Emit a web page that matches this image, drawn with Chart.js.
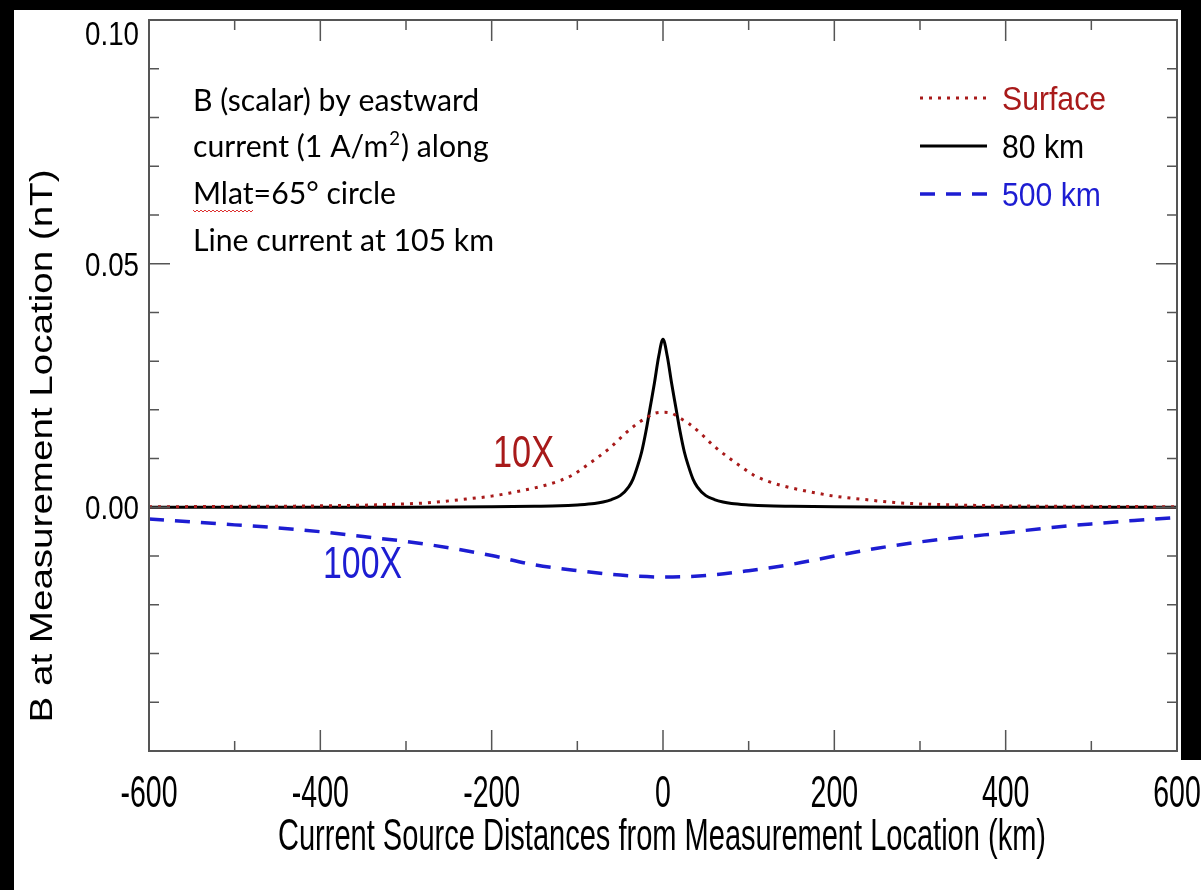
<!DOCTYPE html>
<html>
<head>
<meta charset="utf-8">
<script src="https://cdn.jsdelivr.net/npm/chart.js@4/dist/chart.umd.min.js"></script>
<style>
  html, body { margin: 0; padding: 0; background: #fff; }
  #fieldChart { display: block; }
</style>
</head>
<body>
<canvas id="fieldChart" width="1201" height="890"></canvas>
<script>
// 地面 (已放大10倍)
const surfaceKm = [-600, -500, -400, -300, -270, -230, -200, -180, -160, -140, -120, -105, -90, -75, -60, -45, -30, -20, -10,
    0, 10, 20, 30, 45, 60, 75, 90, 105, 120, 140, 160, 180, 200, 230, 270, 300, 400, 500, 600];
const surfaceB = [0.0001, 0.0002, 0.0003, 0.0007, 0.0010, 0.0017, 0.0023, 0.0029, 0.0036, 0.0044, 0.0055, 0.0067, 0.0085, 0.0104, 0.0125, 0.0150, 0.0172, 0.0183, 0.0193,
    0.0195, 0.0193, 0.0183, 0.0172, 0.0150, 0.0125, 0.0104, 0.0085, 0.0067, 0.0055, 0.0044, 0.0036, 0.0029, 0.0023, 0.0017, 0.0010, 0.0007, 0.0003, 0.0002, 0.0001];

// 80 km 高度
const km80Km = [-600, -300, -200, -150, -120, -100, -80, -70, -60, -50, -40, -35, -30, -25, -20, -15, -10, -5,
    0, 5, 10, 15, 20, 25, 30, 35, 40, 50, 60, 70, 80, 100, 120, 150, 200, 300, 600];
const km80B = [0, 0, 0.0001, 0.0002, 0.0003, 0.0005, 0.0008, 0.0011, 0.0016, 0.0024, 0.0042, 0.0058, 0.0083, 0.0113, 0.0155, 0.0205, 0.0255, 0.0310,
    0.0345, 0.0310, 0.0255, 0.0205, 0.0155, 0.0113, 0.0083, 0.0058, 0.0042, 0.0024, 0.0016, 0.0011, 0.0008, 0.0005, 0.0003, 0.0002, 0.0001, 0, 0];

// 500 km 高度 (已放大100倍)
const km500Km = [-600, -550, -500, -450, -400, -350, -300, -250, -200, -150, -100, -50, 0, 50, 100, 150, 200, 250, 300, 350, 400, 450, 500, 550, 600];
const km500B = [-0.0024, -0.0030, -0.0036, -0.0042, -0.0050, -0.0060, -0.0070, -0.0083, -0.0099, -0.0118, -0.0130, -0.0139, -0.0143,
    -0.0140, -0.0130, -0.0117, -0.0100, -0.0084, -0.0071, -0.0061, -0.0052, -0.0042, -0.0034, -0.0027, -0.0021];

const seriesNames = ['Surface', '80 km', '500 km'];

// 坐标轴刻度
const xTicks = [-600, -500, -400, -300, -200, -100, 0, 100, 200, 300, 400, 500, 600];
const xTickLabels = ['-600', '', '-400', '', '-200', '', '0', '', '200', '', '400', '', '600'];
const yTicks = [-0.05, -0.04, -0.03, -0.02, -0.01, 0, 0.01, 0.02, 0.03, 0.04, 0.05, 0.06, 0.07, 0.08, 0.09, 0.10];
const yTickLabels = ['', '', '', '', '', '0.00', '', '', '', '', '0.05', '', '', '', '', '0.10'];

const xTitle = 'Current Source Distances from Measurement Location (km)';
const yTitle = 'B at Measurement Location (nT)';

const RED = '#a81a1a';
const BLUE = '#1d1dd2';
const AXIS = '#555';
const SANS = '"Liberation Sans", Arial, sans-serif';

function toPoints(xs, ys) {
    return xs.map((x, i) => ({ x: x, y: ys[i] }));
}

// 横向压缩文字
function drawText(ctx, text, x, y, size, sx, align, color, family) {
    ctx.save();
    ctx.font = size + 'px ' + (family || SANS);
    ctx.translate(x, y);
    ctx.scale(sx, 1);
    ctx.textAlign = align;
    ctx.textBaseline = 'alphabetic';
    ctx.fillStyle = color;
    ctx.fillText(text, 0, 0);
    ctx.restore();
}

function fitScale(ctx, text, size, width, family) {
    ctx.save();
    ctx.font = size + 'px ' + (family || SANS);
    const w = ctx.measureText(text).width;
    ctx.restore();
    return width / w;
}

const pagePlugin = {
    id: 'page',
    beforeDraw(chart) {
        const ctx = chart.ctx;
        ctx.save();
        ctx.fillStyle = '#fff';
        ctx.fillRect(0, 0, chart.width, chart.height);
        ctx.fillStyle = '#000';
        ctx.fillRect(0, 0, chart.width, 10);
        ctx.fillRect(0, 0, 14, chart.height);
        ctx.fillRect(1181, 0, 20, 760);
        ctx.restore();
    },
    afterDatasetsDraw(chart) {
        const ctx = chart.ctx;
        const area = chart.chartArea;
        const xs = chart.scales.x;
        const ys = chart.scales.y;

        ctx.save();
        // 边框
        ctx.strokeStyle = AXIS;
        ctx.lineWidth = 2;
        ctx.strokeRect(area.left, area.top, area.right - area.left, area.bottom - area.top);

        // 向内的刻度线
        ctx.lineWidth = 1.5;
        ctx.beginPath();
        xTicks.forEach((v, i) => {
            const px = xs.getPixelForValue(v);
            const len = xTickLabels[i] ? 21 : 10;
            ctx.moveTo(px, area.bottom);
            ctx.lineTo(px, area.bottom - len);
            ctx.moveTo(px, area.top);
            ctx.lineTo(px, area.top + len);
        });
        yTicks.forEach((v, i) => {
            const py = ys.getPixelForValue(v);
            const len = (i % 5 === 0) ? 21 : 10;
            ctx.moveTo(area.left, py);
            ctx.lineTo(area.left + len, py);
            ctx.moveTo(area.right, py);
            ctx.lineTo(area.right - len, py);
        });
        ctx.stroke();
        ctx.restore();

        // 刻度标签
        const sxX = fitScale(ctx, '-600', 44, 57);
        xTicks.forEach((v, i) => {
            if (!xTickLabels[i]) return;
            drawText(ctx, xTickLabels[i], xs.getPixelForValue(v), 807, 44, sxX, 'center', '#000');
        });
        const sxY = fitScale(ctx, '0.05', 33, 54);
        yTicks.forEach((v, i) => {
            if (!yTickLabels[i]) return;
            const py = Math.max(ys.getPixelForValue(v) + 12, 45);
            drawText(ctx, yTickLabels[i], 139, py, 33, sxY, 'right', '#000');
        });

        // 坐标轴标题
        drawText(ctx, xTitle, 662, 850, 44, fitScale(ctx, xTitle, 44, 768), 'center', '#000');
        ctx.save();
        ctx.translate(52, 446);
        ctx.rotate(-Math.PI / 2);
        drawText(ctx, yTitle, 0, 0, 31, fitScale(ctx, yTitle, 31, 553), 'center', '#000');
        ctx.restore();

        // 图例
        const ds = chart.data.datasets;
        const legendY = [98, 146, 194];
        ds.forEach((d, i) => {
            ctx.save();
            ctx.strokeStyle = d.borderColor;
            ctx.lineWidth = d.borderWidth;
            ctx.setLineDash(d.borderDash || []);
            ctx.beginPath();
            ctx.moveTo(920, legendY[i]);
            ctx.lineTo(987, legendY[i]);
            ctx.stroke();
            ctx.restore();
        });
        const sxL = fitScale(ctx, 'Surface', 33, 104);
        const legendColors = [RED, '#000', BLUE];
        seriesNames.forEach((name, i) => {
            drawText(ctx, name, 1002, legendY[i] + 12, 33, sxL, 'left', legendColors[i]);
        });

        // 倍数标注
        drawText(ctx, '10X', 493, 467, 44, fitScale(ctx, '10X', 44, 61), 'left', RED);
        drawText(ctx, '100X', 323, 578, 45, fitScale(ctx, '100X', 45, 79), 'left', BLUE);

        // 说明文字
        const noteFont = 'Lato, "Open Sans", sans-serif';
        const nSize = 31;
        const sxN = fitScale(ctx, 'Line current at 105 km', nSize, 301, noteFont);
        const nx = 193;
        drawText(ctx, 'B (scalar) by eastward', nx, 111, nSize, sxN, 'left', '#000', noteFont);

        // 第二行带上标 2
        ctx.save();
        ctx.font = nSize + 'px ' + noteFont;
        const p1 = 'current (1 A/m';
        const w1 = ctx.measureText(p1).width * sxN;
        ctx.font = Math.round(nSize * 0.62) + 'px ' + noteFont;
        const w2 = ctx.measureText('2').width * sxN;
        ctx.restore();
        drawText(ctx, p1, nx, 157, nSize, sxN, 'left', '#000', noteFont);
        drawText(ctx, '2', nx + w1 + 1, 145, Math.round(nSize * 0.62), sxN, 'left', '#000', noteFont);
        drawText(ctx, ') along', nx + w1 + w2 + 2, 157, nSize, sxN, 'left', '#000', noteFont);

        drawText(ctx, 'Mlat=65° circle', nx, 204, nSize, sxN, 'left', '#000', noteFont);
        // 拼写检查的红色波浪线
        ctx.save();
        ctx.font = nSize + 'px ' + noteFont;
        const wm = ctx.measureText('Mlat').width * sxN;
        ctx.strokeStyle = '#d33';
        ctx.lineWidth = 1;
        ctx.beginPath();
        for (let k = 0; k <= wm; k += 2) {
            const yy = 210 + ((k / 2) % 2 === 0 ? 0 : 2);
            if (k === 0) ctx.moveTo(nx + k, yy); else ctx.lineTo(nx + k, yy);
        }
        ctx.stroke();
        ctx.restore();

        drawText(ctx, 'Line current at 105 km', nx, 251, nSize, sxN, 'left', '#000', noteFont);
    }
};

const ctx = document.getElementById('fieldChart').getContext('2d');

const fieldChart = new Chart(ctx, {
    type: 'line',
    data: {
        datasets: [{
            label: seriesNames[0],
            data: toPoints(surfaceKm, surfaceB),
            borderColor: RED,
            borderWidth: 3,
            borderDash: [3, 6],
            cubicInterpolationMode: 'monotone',
            pointRadius: 0
        }, {
            label: seriesNames[1],
            data: toPoints(km80Km, km80B),
            borderColor: '#000',
            borderWidth: 3,
            cubicInterpolationMode: 'monotone',
            pointRadius: 0
        }, {
            label: seriesNames[2],
            data: toPoints(km500Km, km500B),
            borderColor: BLUE,
            borderWidth: 3.5,
            borderDash: [15, 11],
            cubicInterpolationMode: 'monotone',
            pointRadius: 0
        }]
    },
    options: {
        responsive: false,
        animation: false,
        events: [],
        layout: {
            padding: { left: 149, top: 20, right: 24, bottom: 139 }
        },
        scales: {
            x: { type: 'linear', display: false, min: -600, max: 600 },
            y: { type: 'linear', display: false, min: -0.05, max: 0.10 }
        },
        plugins: {
            legend: { display: false },
            tooltip: { enabled: false }
        }
    },
    plugins: [pagePlugin]
});
</script>
</body>
</html>
